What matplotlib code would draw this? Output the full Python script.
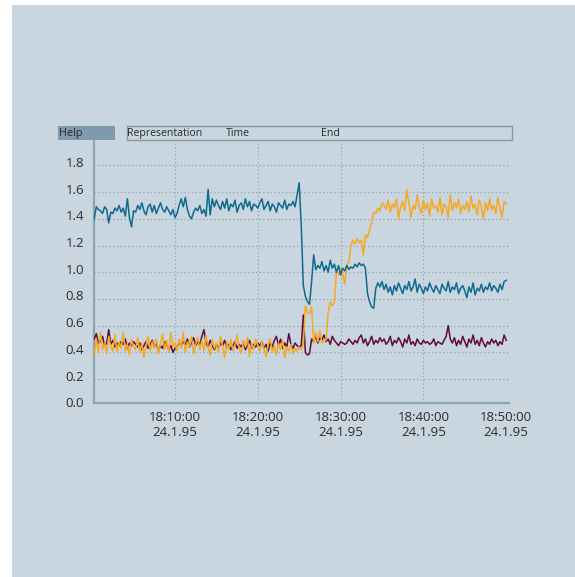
import matplotlib
matplotlib.use("Agg")
import matplotlib.pyplot as plt
from matplotlib.patches import Rectangle
from matplotlib.ticker import FixedLocator, FuncFormatter
import matplotlib.transforms as mtransforms
import numpy as np

plt.rcParams['font.family'] = ['Open Sans', 'DejaVu Sans']

# ---------------- data ----------------
sample_start_min = 0.25   # minutes after 18:00
sample_step_min = 0.25

blue = [
    1.40, 1.49, 1.47, 1.46, 1.44, 1.49, 1.47, 1.37, 1.45, 1.44, 1.48, 1.46, 1.50, 1.45, 1.48, 1.42, 1.55, 1.41, 1.34, 1.46,
    1.45, 1.50, 1.47, 1.52, 1.46, 1.43, 1.49, 1.51, 1.45, 1.50, 1.44, 1.48, 1.52, 1.47, 1.45, 1.49, 1.46, 1.43, 1.47, 1.41,
    1.44, 1.50, 1.55, 1.49, 1.56, 1.47, 1.42, 1.40, 1.45, 1.48, 1.46, 1.50, 1.44, 1.47, 1.42, 1.62, 1.43, 1.55, 1.49, 1.54,
    1.50, 1.47, 1.53, 1.48, 1.55, 1.46, 1.51, 1.49, 1.54, 1.45, 1.50, 1.52, 1.47, 1.55, 1.49, 1.53, 1.46, 1.51, 1.50, 1.48,
    1.52, 1.55, 1.47, 1.50, 1.53, 1.46, 1.51, 1.49, 1.45, 1.52, 1.50, 1.48, 1.54, 1.47, 1.51, 1.50, 1.53, 1.49, 1.58, 1.67,
    1.35, 0.90, 0.82, 0.78, 0.76, 0.93, 1.13, 1.02, 1.05, 1.03, 1.08, 1.01, 1.05, 1.00, 1.09, 1.03, 1.06, 1.00, 1.05, 0.98,
    1.03, 1.01, 1.05, 1.02, 1.04, 1.03, 1.06, 1.04, 1.07, 1.05, 1.06, 1.03, 0.84, 0.78, 0.74, 0.73, 0.88, 0.92, 0.89, 0.93,
    0.87, 0.91, 0.85, 0.89, 0.83, 0.90, 0.86, 0.92, 0.88, 0.84, 0.90, 0.87, 0.93, 0.86, 0.89, 0.95, 0.85, 0.91, 0.88, 0.84,
    0.89, 0.86, 0.92, 0.88, 0.85, 0.90, 0.87, 0.84, 0.91, 0.88, 0.86, 0.93, 0.85, 0.89, 0.87, 0.92, 0.84, 0.88, 0.90, 0.86,
    0.81, 0.89, 0.85, 0.92, 0.83, 0.88, 0.86, 0.91, 0.85, 0.89, 0.87, 0.92, 0.86, 0.90, 0.88, 0.85, 0.91, 0.87, 0.93, 0.94,
]

orange = [
    0.38, 0.50, 0.40, 0.55, 0.42, 0.47, 0.39, 0.52, 0.44, 0.41, 0.53, 0.40, 0.48, 0.43, 0.55, 0.41, 0.46, 0.38, 0.50, 0.44,
    0.42, 0.51, 0.40, 0.47, 0.36, 0.45, 0.52, 0.41, 0.48, 0.43, 0.50, 0.39, 0.46, 0.54, 0.42, 0.49, 0.40, 0.55, 0.44, 0.47,
    0.41, 0.50, 0.43, 0.55, 0.40, 0.48, 0.44, 0.52, 0.39, 0.46, 0.51, 0.42, 0.49, 0.41, 0.53, 0.44, 0.38, 0.50, 0.43, 0.47,
    0.40, 0.52, 0.45, 0.36, 0.48, 0.42, 0.50, 0.41, 0.46, 0.53, 0.43, 0.39, 0.49, 0.44, 0.51, 0.37, 0.47, 0.42, 0.50, 0.45,
    0.41, 0.48, 0.43, 0.37, 0.46, 0.50, 0.40, 0.45, 0.38, 0.47, 0.42, 0.49, 0.36, 0.44, 0.41, 0.46, 0.39, 0.43, 0.41, 0.44,
    0.42, 0.46, 0.75, 0.70, 0.69, 0.74, 0.47, 0.55, 0.48, 0.56, 0.47, 0.50, 0.49, 0.70, 0.78, 0.75, 0.77, 1.01, 0.98, 1.03,
    0.99, 0.91, 1.06, 1.07, 1.20, 1.24, 1.21, 1.25, 1.22, 1.24, 1.13, 1.28, 1.26, 1.32, 1.37, 1.45, 1.44, 1.48, 1.46, 1.52,
    1.50, 1.47, 1.54, 1.45, 1.51, 1.48, 1.55, 1.40, 1.49, 1.53, 1.46, 1.62, 1.52, 1.41, 1.50, 1.47, 1.58, 1.49, 1.44, 1.54,
    1.47, 1.52, 1.42, 1.55, 1.48, 1.50, 1.45, 1.56, 1.43, 1.51, 1.49, 1.41, 1.58, 1.46, 1.52, 1.48, 1.55, 1.44, 1.50, 1.47,
    1.53, 1.45, 1.57, 1.48, 1.51, 1.43, 1.54, 1.49, 1.40, 1.52, 1.46, 1.55, 1.47, 1.50, 1.44, 1.56, 1.48, 1.41, 1.53, 1.51,
]

purple = [
    0.50, 0.54, 0.47, 0.48, 0.52, 0.45, 0.47, 0.57, 0.46, 0.49, 0.44, 0.47, 0.45, 0.48, 0.46, 0.50, 0.43, 0.47, 0.45, 0.48,
    0.46, 0.44, 0.47, 0.42, 0.45, 0.48, 0.43, 0.46, 0.49, 0.44, 0.47, 0.41, 0.45, 0.43, 0.48, 0.46, 0.42, 0.45, 0.40, 0.43,
    0.44, 0.47, 0.45, 0.48, 0.46, 0.50, 0.44, 0.47, 0.51, 0.45, 0.48, 0.46, 0.52, 0.57, 0.47, 0.44, 0.49, 0.45, 0.42, 0.46,
    0.43, 0.47, 0.45, 0.49, 0.44, 0.46, 0.42, 0.45, 0.48, 0.43, 0.46, 0.44, 0.47, 0.42, 0.45, 0.49, 0.43, 0.46, 0.44, 0.47,
    0.45, 0.48, 0.43, 0.46, 0.41, 0.47, 0.44, 0.49, 0.52, 0.45, 0.50, 0.43, 0.47, 0.44, 0.54, 0.46, 0.43, 0.47, 0.45, 0.44,
    0.45, 0.68, 0.40, 0.38, 0.39, 0.50, 0.48, 0.52, 0.47, 0.51, 0.49, 0.53, 0.48, 0.50, 0.46, 0.52, 0.49, 0.47, 0.45, 0.48,
    0.47, 0.46, 0.47, 0.50, 0.48, 0.46, 0.49, 0.47, 0.51, 0.53, 0.47, 0.50, 0.45, 0.48, 0.52, 0.46, 0.49, 0.47, 0.51, 0.48,
    0.50, 0.46, 0.48, 0.52, 0.45, 0.49, 0.47, 0.51, 0.48, 0.44, 0.50, 0.47, 0.53, 0.46, 0.48, 0.45, 0.50, 0.47, 0.46, 0.49,
    0.47, 0.48, 0.46, 0.47, 0.50, 0.45, 0.48, 0.47, 0.46, 0.49, 0.52, 0.60, 0.50, 0.47, 0.51, 0.45, 0.49, 0.46, 0.52, 0.48,
    0.44, 0.50, 0.47, 0.53, 0.46, 0.49, 0.45, 0.51, 0.47, 0.44, 0.48, 0.46, 0.50, 0.47, 0.49, 0.45, 0.48, 0.46, 0.53, 0.49,
]

x_ticks_min = [10, 20, 30, 40, 50]
x_tick_date = "24.1.95"
y_ticks = [0.0, 0.2, 0.4, 0.6, 0.8, 1.0, 1.2, 1.4, 1.6, 1.8]
toolbar_items = ["Representation", "Time", "End"]
help_label = "Help"

# ---------------- styles ----------------
W, H = 575, 577
BG = "#c9d6df"
GRID = "#8da3b1"
SPINE = "#8ea4b2"
TXT = "#2b2b2b"
C_BLUE = "#0f6a8d"
C_ORANGE = "#f6a823"
C_PURPLE = "#5d0d3c"

fig = plt.figure(figsize=(W / 100, H / 100), dpi=100)
fig.patch.set_facecolor("white")
fig.patches.append(Rectangle((12 / W, 0), 1 - 12 / W, 1 - 5 / H,
                             transform=fig.transFigure, facecolor=BG,
                             edgecolor="none", zorder=-10))

def fx(px):
    return px / W

def fy(py):
    return 1 - py / H

Y_BOTTOM = 0.0206  # where the visible x-axis line sits
Y_TOP = 1.994
X_LEFT, X_RIGHT = 0.22, 50.34
ax_l, ax_r, ax_t, ax_b = 94, 509, 139.5, 405.75
ax = fig.add_axes([fx(ax_l), fy(ax_b), fx(ax_r - ax_l), (ax_b - ax_t) / H])
ax.set_facecolor("none")
ax.set_zorder(1)

t = [sample_start_min + sample_step_min * i for i in range(len(blue))]

# dotted grid (drawn from the tick lists)
grid_kw = dict(color=GRID, lw=0.9, linestyle=(0, (1, 2)), zorder=1)
ax.hlines(y_ticks[1:], X_LEFT, X_RIGHT, **grid_kw)
ax.vlines(x_ticks_min[:-1], Y_BOTTOM, Y_TOP, **grid_kw)

ax.plot(t[:len(purple)], purple, color=C_PURPLE, lw=1.1, zorder=3)
ax.plot(t[:len(orange)], orange, color=C_ORANGE, lw=1.1, zorder=4)
ax.plot(t, blue, color=C_BLUE, lw=1.1, zorder=5)

ax.set_xlim(X_LEFT, X_RIGHT)
ax.set_ylim(0.0, Y_TOP)

ax.xaxis.set_major_locator(FixedLocator(x_ticks_min))
ax.xaxis.set_major_formatter(FuncFormatter(
    lambda v, p: "18:%02d:00\n%s" % (int(round(v)), x_tick_date)))
ax.yaxis.set_major_locator(FixedLocator(y_ticks))
ax.yaxis.set_major_formatter(FuncFormatter(lambda v, p: "%.1f" % v))

ax.tick_params(axis="both", length=0, colors=TXT, labelsize=9.5)
ax.tick_params(axis="x", pad=6)
ax.tick_params(axis="y", pad=7)
for lab in ax.get_xticklabels():
    lab.set_linespacing(1.25)
offset = mtransforms.ScaledTranslation(0, 3.5 / 100, fig.dpi_scale_trans)
for lab in ax.get_yticklabels():
    lab.set_transform(lab.get_transform() + offset)

for s in ["top", "right"]:
    ax.spines[s].set_visible(False)
for s in ["left", "bottom"]:
    ax.spines[s].set_color(SPINE)
    ax.spines[s].set_linewidth(1.6)
ax.spines["bottom"].set_position(("data", Y_BOTTOM))
ax.spines["left"].set_bounds(Y_BOTTOM, Y_TOP)

# toolbar
fig.patches.append(Rectangle((fx(57.5), fy(139.5)), fx(114.5 - 57.5), (139.5 - 126) / H,
                             transform=fig.transFigure, facecolor="#7f9aac",
                             edgecolor="none", zorder=2))
fig.text(fx(59), fy(133), help_label, fontsize=7.8, color=TXT, va="center", ha="left")
fig.patches.append(Rectangle((fx(126.5), fy(139.5)), fx(511.5 - 126.5), (139.5 - 126.5) / H,
                             transform=fig.transFigure, facecolor="none",
                             edgecolor="#8399a8", lw=1.0, zorder=2))
for label, px in zip(toolbar_items, [127.5, 225.5, 321.5]):
    fig.text(fx(px), fy(133), label, fontsize=7.6, color=TXT, va="center", ha="left")

fig.savefig("out.png", dpi=100, facecolor=fig.get_facecolor())
